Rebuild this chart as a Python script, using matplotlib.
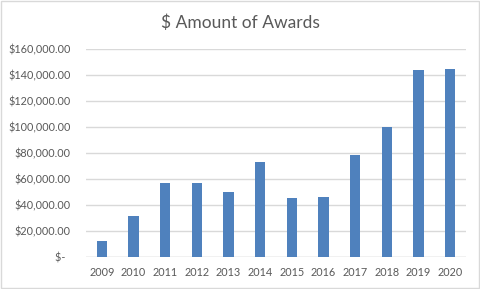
import matplotlib
matplotlib.use("Agg")
import matplotlib.pyplot as plt
from matplotlib.patches import Rectangle

years = ["2009", "2010", "2011", "2012", "2013", "2014",
         "2015", "2016", "2017", "2018", "2019", "2020"]
awards = [12300, 31500, 56900, 57000, 50000, 73000,
          45400, 46200, 78500, 100000, 143800, 144600]
yticks = [0, 20000, 40000, 60000, 80000, 100000, 120000, 140000, 160000]

plt.rcParams['font.family'] = ['Lato', 'DejaVu Sans']
grey = '#595959'

fig = plt.figure(figsize=(4.8, 2.89), dpi=100)
ax = fig.add_axes([0.179, 0.1107, 0.792, 0.7193])

ax.bar(range(len(years)), awards, width=0.32, color='#4F81BD', zorder=3)
ax.set_xlim(-0.5, len(years) - 0.5)
ax.set_ylim(0, 160000)
ax.set_xticks(range(len(years)))
ax.set_xticklabels(years)
ax.set_yticks(yticks)
ax.set_yticklabels(["$-  "] + ["${:,.2f}".format(v) for v in yticks[1:]])
ax.tick_params(length=0, colors=grey, labelsize=7.8)
ax.tick_params(axis='y', pad=11)
ax.tick_params(axis='x', pad=7)
ax.grid(axis='y', color='#D9D9D9', linewidth=1, zorder=0)
for s in ax.spines.values():
    s.set_visible(False)
ax.axhline(0, color='#D9D9D9', linewidth=1, zorder=2)

fig.text(0.5, 0.92, "$ Amount of Awards", ha='center', va='center',
         fontsize=12.5, color=grey)
fig.patches.append(Rectangle((0.002, 0.003), 0.995, 0.993, transform=fig.transFigure,
                             fill=False, edgecolor='#D9D9D9', linewidth=1))

fig.savefig("out.png", dpi=100)
